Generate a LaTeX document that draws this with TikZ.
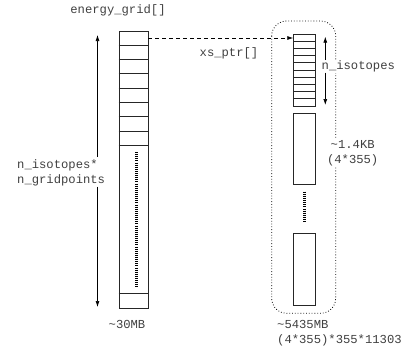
\documentclass[tikz,border=0pt]{standalone}
\usepackage{fontspec}
\setmainfont{Liberation Mono}
\usetikzlibrary{arrows.meta}
\begin{document}
\begin{tikzpicture}[x=1pt,y=-1pt,
  lbl/.style={text=black!75,font=\fontsize{12.2}{14.7}\selectfont,inner sep=1pt},
  col/.style={draw=black!85,line width=0.9pt,inner sep=0pt,anchor=north west},
  cell/.style={draw=black!85,line width=0.9pt},
  dense/.style={line width=3pt,dash pattern=on 1pt off 1.1pt},
  arr/.style={-{Latex[length=6pt,width=4pt]},line width=0.7pt},
  darr/.style={-{Latex[length=6pt,width=4pt]},line width=0.7pt,dash pattern=on 4pt off 3pt}]
\useasboundingbox (0,0) rectangle (405,354);
% left column
\node[col,minimum width=29pt,minimum height=277.3pt] (eg) at (118.5,31) {};
\foreach \i in {1,...,8} \draw[cell] (118.5,31+\i*14.29) -- (147.5,31+\i*14.29);
\draw[cell] (118.5,293.3) -- (147.5,293.3);
\draw[dense] (136.3,152) -- (136.3,288);
\node[lbl] (egl) at (118,10) {energy\_grid[]};
% left arrow
\coordinate (ltop) at (97.5,35);
\coordinate (lbot) at (97.5,307);
\node[lbl,align=left,anchor=west] (nl) at (16,173) {n\_isotopes*\\n\_gridpoints};
\draw[arr] (ltop |- 0,157) -- (ltop);
\draw[arr] (lbot |- 0,186.7) -- (lbot);
\node[lbl] (mb30) at (127,324) {\char`\~30MB};
% container
\draw[dotted,line width=0.8pt,rounded corners=15pt] (271.7,21) rectangle (335.7,313.3);
% right columns
\node[col,minimum width=21.4pt,minimum height=71.4pt] (xs) at (293.3,34.3) {};
\foreach \i in {1,...,9} \draw[cell] (293.3,34.3+\i*7.14) -- (314.7,34.3+\i*7.14);
\node[col,minimum width=21.4pt,minimum height=70.7pt] (b2) at (293.3,113.3) {};
\node[col,minimum width=21.4pt,minimum height=71.7pt] (b3) at (293.3,233.3) {};
\draw[dense] (304.3,191.7) -- (304.3,221.7);
% pointer arrow
\draw[darr] (eg.north east |- 0,38) -- (xs.west |- 0,38);
\node[lbl] (xsl) at (229,53) {xs\_ptr[]};
% n_isotopes
\node[lbl,fill=white] (ni) at (358.3,66.5) {n\_isotopes};
\draw[arr] (325.3,60) -- (325.3,36.7);
\draw[arr] (325.3,72.7) -- (325.3,105);
\node[lbl,fill=white,align=center] (kb) at (352.7,153) {\char`\~1.4KB\\(4*355)};
\node[lbl,align=left,anchor=west] (mb) at (276,333.3) {\char`\~5435MB\\(4*355)*355*11303};
\end{tikzpicture}
\end{document}
